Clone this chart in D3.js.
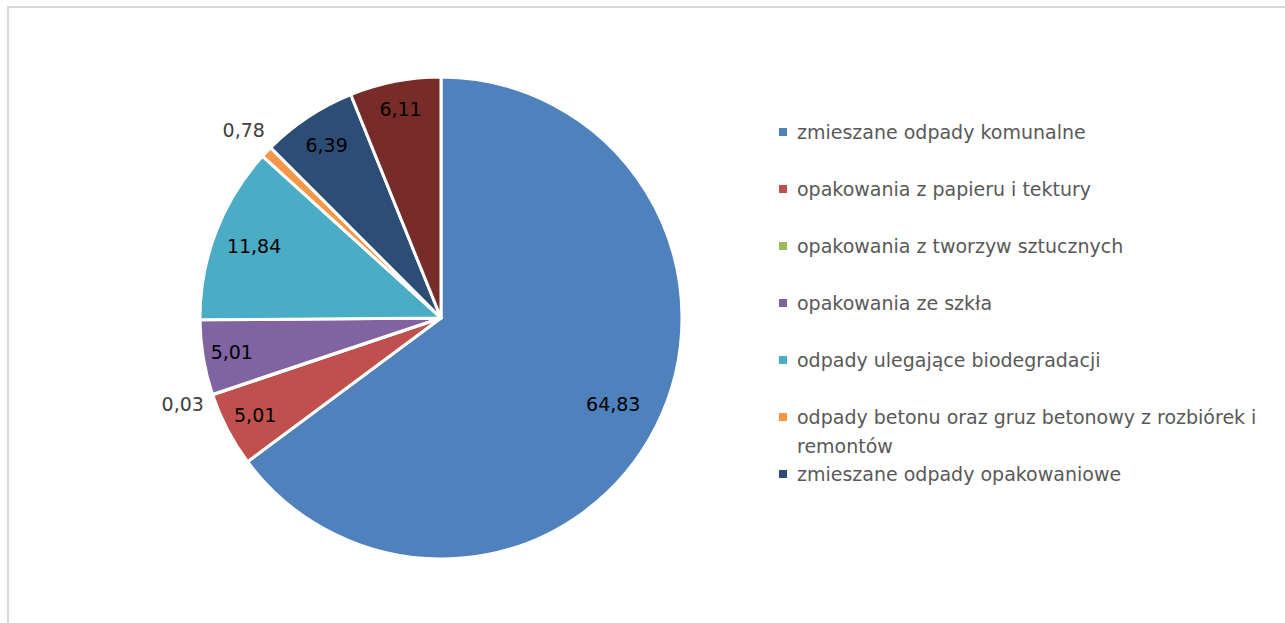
<!DOCTYPE html>
<html lang="pl">
<head>
<meta charset="UTF-8">
<title>Odpady - wykres kołowy</title>
<script src="https://d3js.org/d3.v7.min.js"></script>
<style>
  body { margin: 0; background: #fff; }
  text { font-family: "DejaVu Sans", sans-serif; }
</style>
</head>
<body>
<script>
  // dane
  const categories = [
    'zmieszane odpady komunalne',
    'opakowania z papieru i tektury',
    'opakowania z tworzyw sztucznych',
    'opakowania ze szkła',
    'odpady ulegające biodegradacji',
    'odpady betonu oraz gruz betonowy z rozbiórek i remontów',
    'zmieszane odpady opakowaniowe',
    'inne odpady'
  ]
  const values = [64.83, 5.01, 0.03, 5.01, 11.84, 0.78, 6.39, 6.11]
  const colors = ['#4f81bd', '#c0504d', '#9bbb59', '#8064a2', '#4bacc6', '#f79646', '#2c4d75', '#772c2a']
  // how far out the labels sit (fraction of radius)
  const labelPos = [0.8, 0.87, 1.13, 0.88, 0.83, 1.13, 0.86, 0.88]

  const width = 1285
  const height = 623
  const cx = 441, cy = 318, r = 241

  const svg = d3.select('body').append('svg')
    .attr('width', width)
    .attr('height', height)

  // chart frame
  svg.append('rect')
    .attr('x', 8).attr('y', 7)
    .attr('width', width + 20).attr('height', height + 20)
    .attr('fill', 'none')
    .attr('stroke', '#d9d9d9')
    .attr('stroke-width', 2)

  const data = categories.map((c, i) => ({ name: c, value: values[i], color: colors[i], lp: labelPos[i] }))

  const pie = d3.pie().value(d => d.value).sort(null)
  const arc = d3.arc().innerRadius(0).outerRadius(r)
  const arcs = pie(data)

  const g = svg.append('g').attr('transform', `translate(${cx},${cy})`)

  g.selectAll('path')
    .data(arcs)
    .enter()
    .append('path')
    .attr('d', arc)
    .attr('fill', d => d.data.color)
    .attr('stroke', '#fff')
    .attr('stroke-width', 3)
    .attr('stroke-linejoin', 'round')

  const fmt = d3.formatLocale({ decimal: ',', thousands: ' ', grouping: [3], currency: ['', ''] }).format('.2f')

  g.selectAll('text.lbl')
    .data(arcs)
    .enter()
    .append('text')
    .attr('class', 'lbl')
    .attr('transform', d => {
      const a = (d.startAngle + d.endAngle) / 2
      const rr = r * d.data.lp
      return `translate(${Math.sin(a) * rr},${-Math.cos(a) * rr})`
    })
    .attr('text-anchor', 'middle')
    .attr('dy', '0.35em')
    .attr('font-size', 19)
    .attr('fill', d => d.data.lp > 1 ? '#404040' : '#000')
    .text(d => fmt(d.data.value))

  // legend
  const legX = 779, legY0 = 132, legStep = 57, lineH = 29, maxW = 480
  const legend = svg.append('g')

  data.forEach((d, i) => {
    const y = legY0 + i * legStep
    if (y > 500) return
    const item = legend.append('g')
    item.append('rect')
      .attr('x', legX).attr('y', y - 4)
      .attr('width', 8).attr('height', 8)
      .attr('fill', d.color)
    const t = item.append('text')
      .attr('x', legX + 18).attr('y', y)
      .attr('dy', '0.35em')
      .attr('font-size', 19)
      .attr('fill', '#595959')
    // wrap long names
    const words = d.name.split(' ')
    let line = []
    let tspan = t.append('tspan').attr('x', legX + 18)
    words.forEach(w => {
      line.push(w)
      tspan.text(line.join(' '))
      if (tspan.node().getComputedTextLength() > maxW && line.length > 1) {
        line.pop()
        tspan.text(line.join(' '))
        line = [w]
        tspan = t.append('tspan').attr('x', legX + 18).attr('dy', lineH).text(w)
      }
    })
  })
</script>
</body>
</html>
